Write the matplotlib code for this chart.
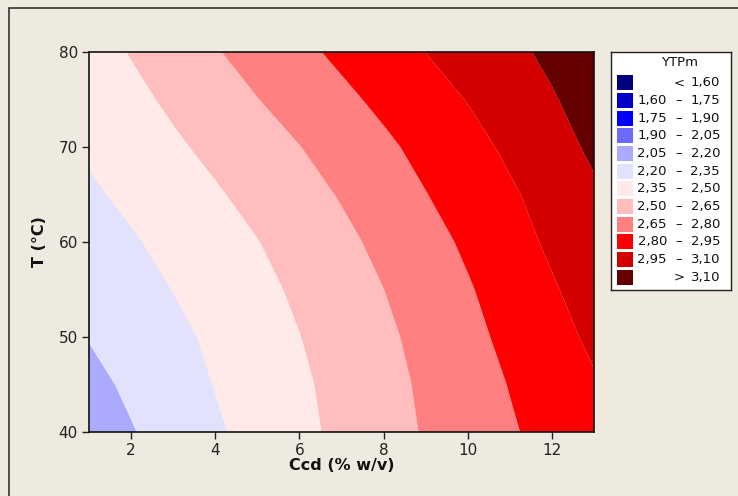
"""
Contour plot of YTPm vs Ccd and T (Minitab style)
"""
import numpy as np
import matplotlib.pyplot as plt
from matplotlib.patches import Rectangle

# grid
ccd = [1, 2, 3, 4, 5, 6, 7, 8, 9, 10, 11, 12, 13]
temp = [40, 45, 50, 55, 60, 65, 70, 75, 80]

z_t40 = [2.121, 2.191, 2.261, 2.331, 2.398, 2.465, 2.531, 2.596, 2.661, 2.723, 2.785, 2.846, 2.906]
z_t45 = [2.160, 2.225, 2.290, 2.355, 2.416, 2.477, 2.541, 2.606, 2.672, 2.738, 2.805, 2.871, 2.937]
z_t50 = [2.206, 2.262, 2.318, 2.375, 2.436, 2.497, 2.560, 2.623, 2.691, 2.762, 2.833, 2.904, 2.975]
z_t55 = [2.252, 2.300, 2.353, 2.408, 2.464, 2.522, 2.585, 2.649, 2.718, 2.788, 2.861, 2.936, 3.012]
z_t60 = [2.288, 2.336, 2.389, 2.443, 2.496, 2.557, 2.618, 2.683, 2.752, 2.822, 2.897, 2.973, 3.051]
z_t65 = [2.329, 2.380, 2.433, 2.485, 2.542, 2.600, 2.660, 2.728, 2.796, 2.864, 2.932, 3.001, 3.080]
z_t70 = [2.370, 2.424, 2.478, 2.534, 2.591, 2.647, 2.710, 2.774, 2.839, 2.905, 2.974, 3.048, 3.124]
z_t75 = [2.405, 2.464, 2.525, 2.586, 2.647, 2.708, 2.769, 2.831, 2.893, 2.955, 3.022, 3.089, 3.159]
z_t80 = [2.440, 2.507, 2.573, 2.640, 2.704, 2.767, 2.829, 2.890, 2.951, 3.010, 3.069, 3.128, 3.187]

bounds = [1.60, 1.75, 1.90, 2.05, 2.20, 2.35, 2.50, 2.65, 2.80, 2.95, 3.10]
colors = ['#000080', '#0000C8', '#0000FF', '#6B6BFF', '#AAAAFF', '#E2E2FF',
          '#FFE9E9', '#FFBDBD', '#FF8080', '#FF0000', '#D40000', '#640000']

BG = '#EEEAE0'


def fmt(v):
    return f"{v:.2f}".replace('.', ',')


def plot_contour():
    Z = np.array([z_t40, z_t45, z_t50, z_t55, z_t60, z_t65, z_t70, z_t75, z_t80])
    X, Y = np.meshgrid(ccd, temp)

    fig = plt.figure(figsize=(7.38, 4.96), dpi=100, facecolor=BG)
    W, H = 738, 496

    # outer frame
    fig.patches.append(Rectangle((9 / W, -0.1), 1.2, (496 - 8) / H + 0.1,
                                 transform=fig.transFigure, fill=False,
                                 edgecolor='#333333', linewidth=1.2))

    ax = fig.add_axes([89 / W, (H - 432) / H, 505 / W, 380 / H])
    ax.set_facecolor(BG)
    levels = [0.0] + bounds + [10.0]
    ax.contourf(X, Y, Z, levels=levels, colors=colors, antialiased=True)

    ax.set_xlim(1, 13)
    ax.set_ylim(40, 80)
    ax.set_xticks([2, 4, 6, 8, 10, 12])
    ax.set_yticks([40, 50, 60, 70, 80])
    ax.tick_params(direction='out', length=5, width=1, labelsize=11,
                   colors='#222222', pad=3)
    for s in ax.spines.values():
        s.set_color('#111111')
        s.set_linewidth(1.2)
    ax.set_xlabel('Ccd (% w/v)', fontsize=11.5, fontweight='bold', labelpad=0,
                  color='#111111')
    ax.set_ylabel('T (°C)', fontsize=11.5, fontweight='bold', labelpad=8,
                  color='#111111')

    # legend box drawn in pixel units
    lx0, ly0, lw, lh = 611, 52, 120, 238
    lg = fig.add_axes([lx0 / W, (H - ly0 - lh) / H, lw / W, lh / H])
    lg.set_xlim(0, lw)
    lg.set_ylim(lh, 0)
    lg.set_xticks([])
    lg.set_yticks([])
    lg.set_facecolor('white')
    for s in lg.spines.values():
        s.set_color('#222222')
        s.set_linewidth(1.0)
    lg.text(69, 11, 'YTPm', ha='center', va='center', fontsize=9.5,
            color='#111111')

    labels = []
    labels.append(('', '<', fmt(bounds[0])))
    for a, b in zip(bounds[:-1], bounds[1:]):
        labels.append((fmt(a), '–', fmt(b)))
    labels.append(('', '>', fmt(bounds[-1])))

    for i, (c, (lo, mid, hi)) in enumerate(zip(colors, labels)):
        yc = 30.7 + i * 17.7
        lg.add_patch(Rectangle((6, yc - 7.5), 16, 15, facecolor=c,
                               edgecolor='none'))
        lg.text(56, yc, lo, ha='right', va='center', fontsize=9.5,
                color='#111111')
        lg.text(68, yc, mid, ha='center', va='center', fontsize=9.5,
                color='#111111')
        lg.text(109, yc, hi, ha='right', va='center', fontsize=9.5,
                color='#111111')

    fig.savefig('out.png', dpi=100, facecolor=BG)


if __name__ == '__main__':
    plot_contour()
